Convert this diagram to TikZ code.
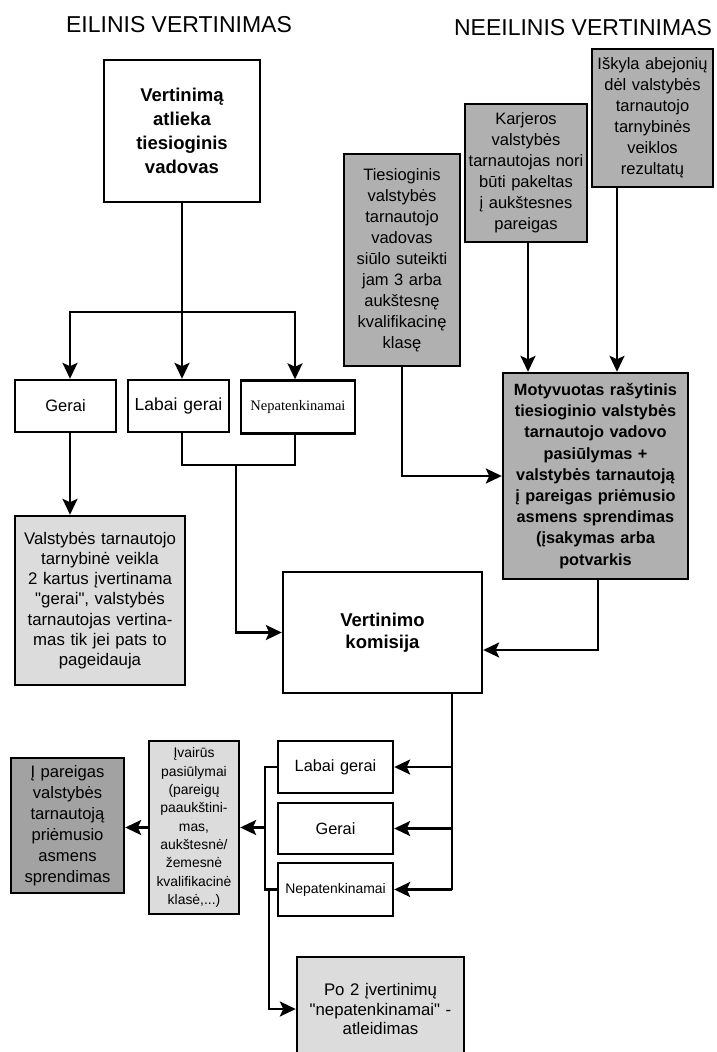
\documentclass[tikz,border=0pt]{standalone}
\usepackage{fontspec}
\setmainfont{Liberation Sans}[Ligatures=TeXOff]
\newfontfamily\seriffont{Liberation Serif}
\usetikzlibrary{arrows.meta}
\definecolor{gmid}{HTML}{B0B0B0}
\definecolor{glight}{HTML}{DCDCDC}
\definecolor{gdark}{HTML}{A2A2A2}
\begin{document}
\begin{tikzpicture}[x=1pt,y=-1pt,
  box/.style={draw, line width=2.4pt, inner sep=0pt, align=center},
  fs/.style={font=\fontsize{16.5}{21}\selectfont},
  fsb/.style={font=\fontsize{16.3}{21.2}\selectfont\bfseries},
  arr/.style={line width=2.4pt, -{Stealth[length=16pt,width=15pt,inset=3.5pt]}},
  ln/.style={line width=2.4pt},
  ttl/.style={font=\fontsize{23}{26}\selectfont}]
\useasboundingbox (0,0) rectangle (717,1052);
\clip (0,0) rectangle (717,1052);
\fill[white] (0,0) rectangle (717,1052);

% titles
\node[ttl] (t1) at (179,25) {EILINIS VERTINIMAS};
\node[ttl] (t2) at (583,28) {NEEILINIS VERTINIMAS};

% left column
\node[box, minimum width=156, minimum height=142, text width=150,
  font=\fontsize{18.5}{24}\selectfont\bfseries] (A) at (182,131)
  {Vertinimą\\atlieka\\tiesioginis\\vadovas\\[3pt]};

\node[box, minimum width=101, minimum height=52, text width=97,
  font=\fontsize{16.5}{20}\selectfont] (g1) at (65.5,406) {Gerai};
\node[box, minimum width=101, minimum height=52, text width=97,
  font=\fontsize{17.5}{20}\selectfont] (lg1) at (178.5,406) {Labai gerai};
\node[box, minimum width=114, minimum height=53, text width=110,
  font=\seriffont\fontsize{14.5}{18}\selectfont] (n1) at (298,407) {Nepatenkinamai};

\node[box, fill=glight, minimum width=170, minimum height=169, text width=164,
  font=\fontsize{16.8}{20.2}\selectfont] (V) at (100,600.5)
  {Valstybės tarnautojo\\tarnybinė veikla\\2 kartus įvertinama\\"gerai", valstybės\\tarnautojas vertina-\\mas tik jei pats to\\pageidauja};

% right column
\node[box, fill=gmid, minimum width=116, minimum height=212, text width=112, fs] (T) at (402,260)
  {Tiesioginis\\valstybės\\tarnautojo\\vadovas\\siūlo suteikti\\jam 3 arba\\aukštesnę\\kvalifikacinę\\klasę};
\node[box, fill=gmid, minimum width=122, minimum height=138, text width=118, fs] (K) at (526,173)
  {Karjeros\\valstybės\\tarnautojas nori\\būti pakeltas\\į aukštesnes\\pareigas};
\node[box, fill=gmid, minimum width=121, minimum height=138, text width=117, fs] (I) at (652.5,118)
  {Iškyla abejonių\\dėl valstybės\\tarnautojo\\tarnybinės\\veiklos\\rezultatų};

\node[box, fill=gmid, minimum width=185, minimum height=206, text width=181, fsb] (M) at (595.5,476)
  {Motyvuotas rašytinis\\tiesioginio valstybės\\tarnautojo vadovo\\pasiūlymas +\\valstybės tarnautoją\\į pareigas priėmusio\\asmens sprendimas\\(įsakymas arba\\potvarkis};

\node[box, minimum width=199, minimum height=121, text width=193,
  font=\fontsize{18.5}{22.5}\selectfont\bfseries] (kom) at (382.5,632.5)
  {Vertinimo\\komisija};

% bottom
\node[box, minimum width=115, minimum height=52, text width=111,
  font=\fontsize{16.3}{20}\selectfont] (lg2) at (335.5,767) {Labai gerai};
\node[box, minimum width=115, minimum height=51, text width=111,
  font=\fontsize{16.3}{20}\selectfont] (g2) at (335.5,828.5) {Gerai};
\node[box, minimum width=115, minimum height=53, text width=111,
  font=\fontsize{13.9}{18}\selectfont] (n2) at (335.5,889.5) {Nepatenkinamai};

\node[box, fill=glight, minimum width=90, minimum height=173, text width=88,
  font=\fontsize{13.9}{18.3}\selectfont] (Iv) at (194,827.5)
  {Įvairūs\\pasiūlymai\\(pareigų\\paaukštini-\\mas,\\aukštesnė/\\žemesnė\\kvalifikacinė\\klasė,...)};

\node[box, fill=gdark, minimum width=113, minimum height=135, text width=109,
  font=\fontsize{16.6}{21}\selectfont] (P) at (67.5,825.5)
  {Į pareigas\\valstybės\\tarnautoją\\priėmusio\\asmens\\sprendimas};

\node[box, fill=glight, minimum width=167, minimum height=104, text width=163,
  font=\fontsize{16.8}{19.5}\selectfont] (Po) at (380.5,1009)
  {Po 2 įvertinimų\\"nepatenkinamai" -\\atleidimas};

% connectors: left column
\coordinate (jA) at (182,312);
\coordinate (jL) at (70,312);
\coordinate (jR) at (295,312);
\draw[ln] (A.south) -- (jA);
\draw[ln, line cap=rect] (jL) -- (jR);
\draw[arr] (jL) -- (jL |- g1.north);
\draw[arr] (jA) -- (jA |- lg1.north);
\draw[arr] (jR) -- (jR |- n1.north);

\coordinate (b1) at (182,465);
\coordinate (b2) at (295,465);
\coordinate (b3) at (236,465);
\draw[ln, line join=miter] (b1 |- lg1.south) -- (b1) -- (b2) -- (b2 |- n1.south);
\draw[arr] (b3) |- (kom.west);

\draw[arr] (jL |- g1.south) -- (jL |- V.north);

% connectors: right column
\draw[arr] (T.south) |- (M.west);
\coordinate (xK) at (528,0);
\coordinate (xI) at (617,0);
\draw[arr] (K.south -| xK) -- (xK |- M.north);
\draw[arr] (I.south -| xI) -- (xI |- M.north);

\coordinate (mk) at (598,650);
\draw[arr] (M.south -| mk) -- (mk) -- (kom.east |- mk);

% connectors: bottom
\coordinate (kv) at (452,0);
\draw[ln] (kom.south -| kv) -- (kv |- n2.east);
\draw[arr] (kv |- lg2.east) -- (lg2.east);
\draw[arr] (kv |- g2.east) -- (g2.east);
\draw[arr] (kv |- n2.east) -- (n2.east);

\coordinate (lx) at (265,0);
\draw[ln] (lg2.west) -- (lg2.west -| lx) -- (n2.west -| lx) -- (n2.west);
\draw[arr] (lx |- Iv.east) -- (Iv.east);
\draw[arr] (Iv.west) -- (P.east |- Iv.west);

\coordinate (px) at (269,0);
\draw[arr] (n2.west -| px) |- (Po.west);
\end{tikzpicture}
\end{document}
